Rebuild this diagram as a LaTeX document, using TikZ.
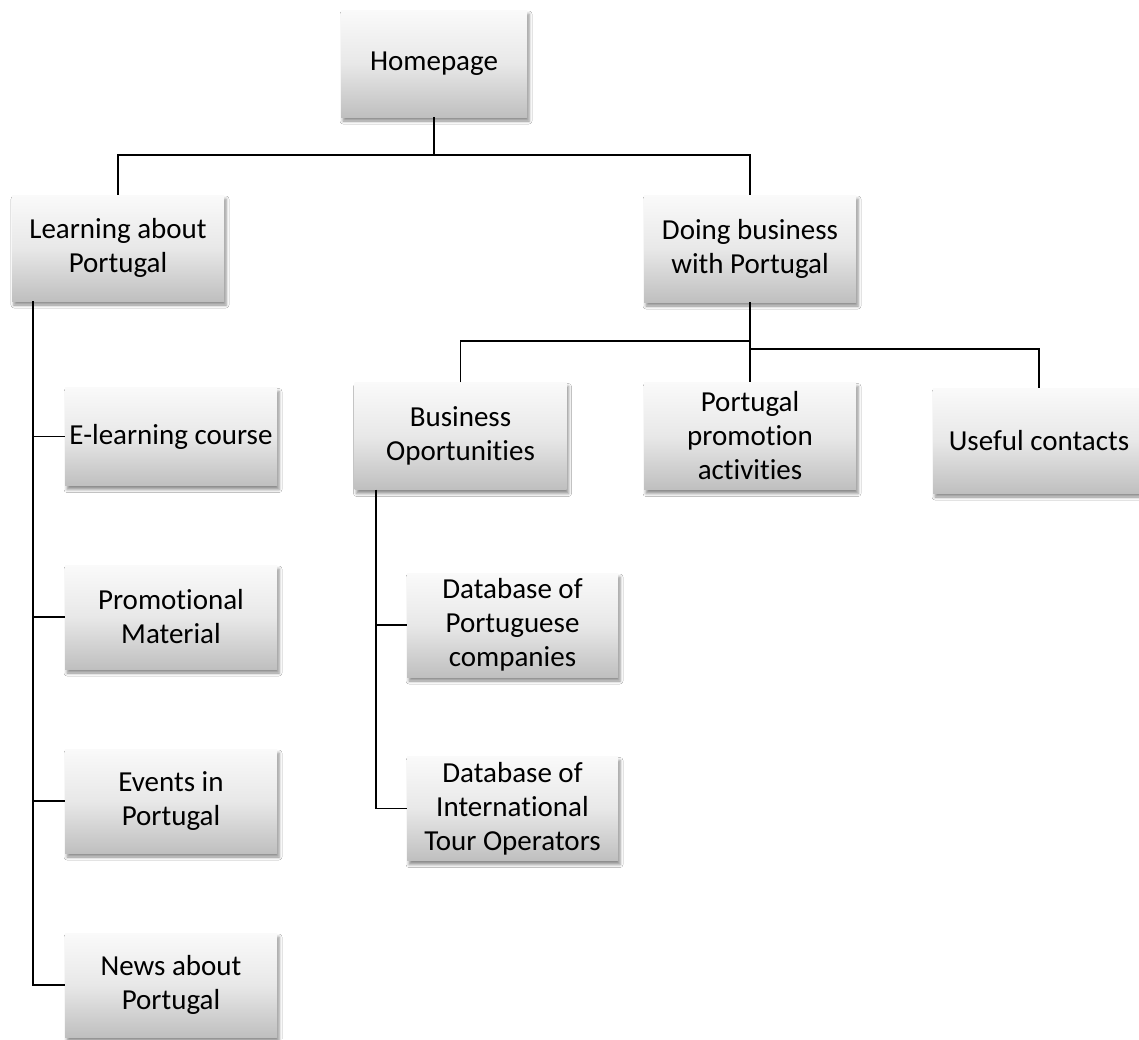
\documentclass[tikz,border=0pt]{standalone}
\usepackage{fontspec}
\setmainfont[Ligatures=NoCommon]{Carlito}
\usetikzlibrary{shadows.blur}
\begin{document}
\begin{tikzpicture}[x=1pt,y=-1pt,
  box/.style={rectangle, inner sep=1pt, align=center, text=black,
    font=\fontsize{29}{34}\selectfont,
    top color=black!2, bottom color=black!25, middle color=black!9,
    blur shadow={shadow xshift=2pt, shadow yshift=-4pt, shadow blur radius=3pt, shadow opacity=45},
    minimum width=212pt, minimum height=104pt},
  conn/.style={draw=black, line width=1.8pt}]
\useasboundingbox (0,0) rectangle (1139,1039);
\fill[white] (0,0) rectangle (1139,1039);

% nodes
\node[box, minimum width=186pt, minimum height=107pt] (home) at (434,63.5) {Homepage};
\node[box, minimum height=106pt] (learn) at (118,248) {Learning about\\Portugal};
\node[box, minimum height=107pt] (doing) at (750,248.5) {Doing business\\with Portugal};
\node[box, minimum height=107pt] (busop) at (460.5,436) {Business\\Oportunities};
\node[box, minimum height=107pt] (promo) at (750,436) {Portugal\\promotion\\activities};
\node[box, minimum height=105pt] (useful) at (1039,440.5) {Useful contacts};
\node[box, minimum height=98pt] (elearn) at (171,436.5) {E-learning course};
\node[box] (promat) at (171,617) {Promotional\\Material};
\node[box] (events) at (171,801) {Events in\\Portugal};
\node[box] (news) at (171,985) {News about\\Portugal};
\node[box, minimum width=211pt] (dbpt) at (512.5,625) {Database of\\Portuguese\\companies};
\node[box, minimum width=211pt] (dbtour) at (512.5,808.5) {Database of\\International\\Tour Operators};

% connector helper coordinates
\coordinate (bus1) at (434,155);
\coordinate (busL) at (750,341);
\coordinate (busR) at (750,349);
\coordinate (trunkL) at (33,0);
\coordinate (trunkB) at (376,0);

% connectors
\draw[conn] (home.south) -- (bus1);
\draw[conn] (learn.north) |- (bus1) -| (doing.north);
\draw[conn] (doing.south) -- (promo.north);
\draw[conn] (busop.north) |- (busL);
\draw[conn] (useful.north) |- (busR);
\draw[conn] (learn.south -| trunkL) |- (news.west);
\draw[conn] (trunkL |- elearn.west) -- (elearn.west);
\draw[conn] (trunkL |- promat.west) -- (promat.west);
\draw[conn] (trunkL |- events.west) -- (events.west);
\draw[conn] (busop.south -| trunkB) |- (dbtour.west);
\draw[conn] (trunkB |- dbpt.west) -- (dbpt.west);
\end{tikzpicture}
\end{document}
